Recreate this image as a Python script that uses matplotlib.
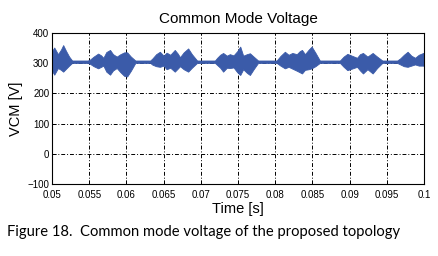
import matplotlib
matplotlib.use("Agg")
import matplotlib.pyplot as plt
import numpy as np

# Envelope of the common-mode voltage (time in ms)
t_ms = [50.0, 50.3, 50.8, 51.2, 51.5, 51.9, 52.3, 52.7,
        54.8, 55.1, 55.6, 56.2, 56.6, 56.9, 57.3, 57.8, 58.2, 58.7, 59.2, 59.7, 60.1, 60.6, 61.2,
        63.2, 63.5, 64.0, 64.5, 65.0, 65.4, 65.9, 66.5, 66.9, 67.2, 67.7, 68.3, 68.8, 69.5,
        71.9, 72.2, 72.6, 73.0, 73.5, 73.9, 74.4, 74.9, 75.3, 75.7, 76.2, 76.6, 77.1, 77.7,
        80.2, 80.7, 81.3, 81.8, 82.3, 82.9, 83.3, 83.6, 84.0, 84.5, 84.9, 85.4, 86.0,
        88.7, 89.2, 89.7, 90.3, 91.0, 91.4, 91.8, 92.4, 93.1, 93.7, 94.4,
        96.4, 96.8, 97.3, 97.8, 98.3, 98.8, 99.3, 99.9, 100.0]
vcm_upper = [340, 352, 330, 345, 360, 340, 322, 309,
             309, 312, 322, 332, 326, 318, 337, 344, 330, 322, 330, 336, 336, 322, 309,
             309, 316, 330, 338, 325, 335, 328, 344, 332, 320, 336, 349, 330, 309,
             309, 318, 328, 334, 325, 330, 326, 340, 355, 325, 330, 333, 322, 309,
             309, 324, 338, 328, 334, 330, 340, 344, 330, 345, 355, 335, 309,
             309, 322, 331, 325, 318, 330, 334, 322, 334, 322, 309,
             309, 316, 328, 338, 325, 318, 328, 334, 330]
vcm_lower = [275, 262, 284, 278, 272, 282, 292, 301,
             301, 298, 290, 283, 288, 292, 272, 262, 276, 284, 270, 258, 256, 275, 301,
             301, 295, 290, 288, 292, 280, 285, 272, 282, 290, 280, 272, 285, 301,
             301, 294, 285, 272, 285, 284, 286, 270, 261, 280, 268, 261, 280, 301,
             301, 292, 283, 288, 282, 275, 270, 266, 278, 280, 283, 290, 301,
             301, 288, 277, 282, 288, 276, 266, 280, 266, 284, 301,
             301, 296, 290, 288, 292, 296, 292, 292, 290]

x_ticks = [0.05, 0.055, 0.06, 0.065, 0.07, 0.075, 0.08, 0.085, 0.09, 0.095, 0.1]
x_labels = ["0.05", "0.055", "0.06", "0.065", "0.07", "0.075", "0.08", "0.085", "0.09", "0.095", "0.1"]
y_ticks = [-100, 0, 100, 200, 300, 400]

plt.rcParams['font.family'] = ['Liberation Sans', 'DejaVu Sans']

fig = plt.figure(figsize=(4.39, 2.56), dpi=100)
ax = fig.add_axes([0.1185, 0.2813, 0.8473, 0.5897])
ax.set_axisbelow(True)

t = np.array(t_ms) / 1000.0
blue = '#3B5BA9'
ax.fill_between(t, vcm_lower, vcm_upper, color=blue, linewidth=0.6, edgecolor=blue, zorder=2)

ax.set_xlim(0.05, 0.1)
ax.set_ylim(-100, 400)
ax.set_xticks(x_ticks)
ax.set_xticklabels(x_labels)
ax.set_yticks(y_ticks)
ax.tick_params(direction='in', labelsize=7, length=3, width=0.6, colors='black')
ax.tick_params(axis='x', pad=4)
ax.tick_params(axis='y', pad=2)
ax.grid(True, color='black', linestyle='-.', linewidth=0.7, dashes=(4, 2, 1, 2))
for s in ax.spines.values():
    s.set_linewidth(0.8)
    s.set_color('black')
    s.set_zorder(3)

ax.set_title("Common Mode Voltage", fontsize=11, pad=7)
ax.set_xlabel("Time [s]", fontsize=10.5, labelpad=2)
ax.set_ylabel("VCM [V]", fontsize=10.5, labelpad=3)

fig.text(0.016, 0.095, "Figure 18.  Common mode voltage of the proposed topology",
         fontsize=10.6, family=['Lato', 'DejaVu Sans'], ha='left', va='center')

fig.savefig("out.png", dpi=100)
